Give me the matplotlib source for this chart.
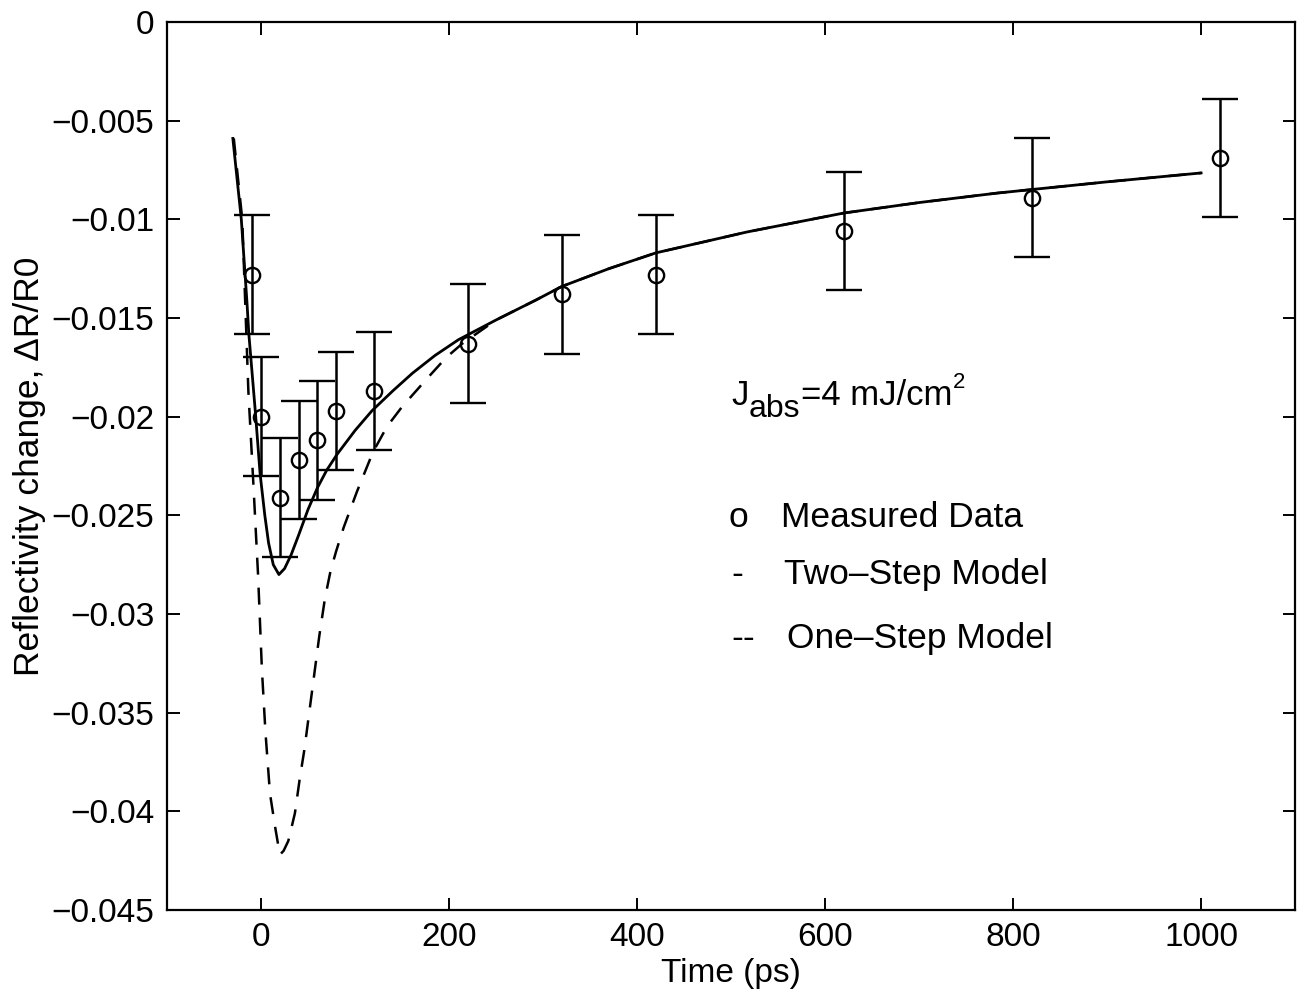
#!/usr/bin/env python
"""
Transient reflectivity change vs. time: measured data with error bars,
two-step and one-step model curves.

- Writes: out.png
"""

import matplotlib
matplotlib.use("Agg")
import matplotlib.pyplot as plt
from matplotlib.ticker import FuncFormatter

# measured data (time in ps, dR/R0, symmetric error)
meas_t = [-10, 0, 20, 40, 60, 80, 120, 220, 320, 420, 620, 820, 1020]
meas_r = [-0.0128, -0.0200, -0.0241, -0.0222, -0.0212, -0.0197, -0.0187,
          -0.0163, -0.0138, -0.0128, -0.0106, -0.0089, -0.0069]
meas_err = [0.003] * 13

# two-step model (solid)
two_t = [-30, -21, -15, -13, -6, -1, 4, 8, 13, 19, 25, 32, 40, 50, 60, 70,
         81, 100, 118, 140, 161, 185, 210, 250, 292, 320, 370, 420, 517,
         620, 700, 783, 900, 1000]
two_r = [-0.0059, -0.0100, -0.0142, -0.0158, -0.0198, -0.0229, -0.0250,
         -0.0264, -0.0275, -0.0280, -0.0277, -0.0270, -0.0260, -0.0247,
         -0.0236, -0.0227, -0.0219, -0.0207, -0.0197, -0.0187, -0.0178,
         -0.0169, -0.0161, -0.0151, -0.0141, -0.0134, -0.0125, -0.0117,
         -0.01064, -0.00968, -0.00915, -0.00867, -0.0081, -0.00765]

# one-step model (dashed)
one_t = [-29, -20, -13.5, -8.4, -3.2, 0.9, 4.7, 9.5, 15, 20, 24, 29, 36,
         41, 46, 54, 62, 68, 74, 80, 88, 102, 119, 134, 150, 176, 197, 214,
         250, 292, 320, 370, 420, 517, 620, 700, 783, 900, 1000]
one_r = [-0.0059, -0.0100, -0.0187, -0.0232, -0.0280, -0.0328, -0.0360,
         -0.0391, -0.0408, -0.0422, -0.0420, -0.0415, -0.0401, -0.0384,
         -0.0369, -0.0340, -0.0311, -0.0292, -0.0278, -0.0268, -0.0256,
         -0.0238, -0.0218, -0.0205, -0.0195, -0.0181, -0.0170, -0.0163,
         -0.0151, -0.0141, -0.0134, -0.0125, -0.0117, -0.01064, -0.00968,
         -0.00915, -0.00867, -0.0081, -0.00765]

xticks = [0, 200, 400, 600, 800, 1000]
yticks = [0, -0.005, -0.01, -0.015, -0.02, -0.025, -0.03, -0.035, -0.04, -0.045]


def main():
    plt.rcParams["font.family"] = ["Liberation Sans", "DejaVu Sans"]

    fig = plt.figure(figsize=(13.02, 10), dpi=100)
    ax = fig.add_axes([0.1283, 0.09, 0.8664, 0.888])

    ax.errorbar(meas_t, meas_r, yerr=meas_err, fmt="o", color="black",
                mfc="none", mec="black", ms=11, mew=1.7, elinewidth=1.8,
                capsize=13, capthick=1.8)
    ax.plot(two_t, two_r, color="black", lw=2.0)
    ax.plot(one_t, one_r, color="black", lw=1.8, linestyle=(0, (6.8, 5.2)))

    ax.set_xlim(-100, 1100)
    ax.set_ylim(-0.045, 0)
    ax.set_xticks(xticks)
    ax.set_yticks(yticks)
    ax.yaxis.set_major_formatter(
        FuncFormatter(lambda v, pos: f"{v:g}".replace("-", "\u2212")))
    ax.tick_params(direction="in", length=9, width=1.4, labelsize=24,
                   top=True, right=True, pad=9)
    for sp in ax.spines.values():
        sp.set_linewidth(1.6)

    ax.set_xlabel("Time (ps)", fontsize=24, labelpad=3)
    ax.set_ylabel("Reflectivity change, \u0394R/R0", fontsize=25.5,
                  labelpad=4)

    # J_abs annotation, pieced together like the original
    xy = (500, -0.0194)
    ax.text(*xy, "J", fontsize=25, va="baseline")
    ax.annotate("abs", xy=xy, xytext=(12.5, -8.6), textcoords="offset points",
                fontsize=23, va="baseline")
    ax.annotate("=4 mJ/cm", xy=xy, xytext=(50, 0),
                textcoords="offset points", fontsize=25, va="baseline")
    ax.annotate("2", xy=xy, xytext=(159.5, 12), textcoords="offset points",
                fontsize=16, va="baseline")

    # hand-made legend, as in the original
    ax.text(497, -0.0256, "o", fontsize=25.5, va="baseline")
    ax.text(553, -0.0256, "Measured Data", fontsize=25.5, va="baseline")
    ax.text(500, -0.0285, "-", fontsize=25.5, va="baseline")
    ax.text(556, -0.0285, "Two\u2013Step Model", fontsize=25.5,
            va="baseline")
    ax.text(500, -0.0317, "--", fontsize=25.5, va="baseline")
    ax.text(559, -0.0317, "One\u2013Step Model", fontsize=25.5,
            va="baseline")

    fig.savefig("out.png", dpi=100)
    plt.close(fig)


if __name__ == "__main__":
    main()
